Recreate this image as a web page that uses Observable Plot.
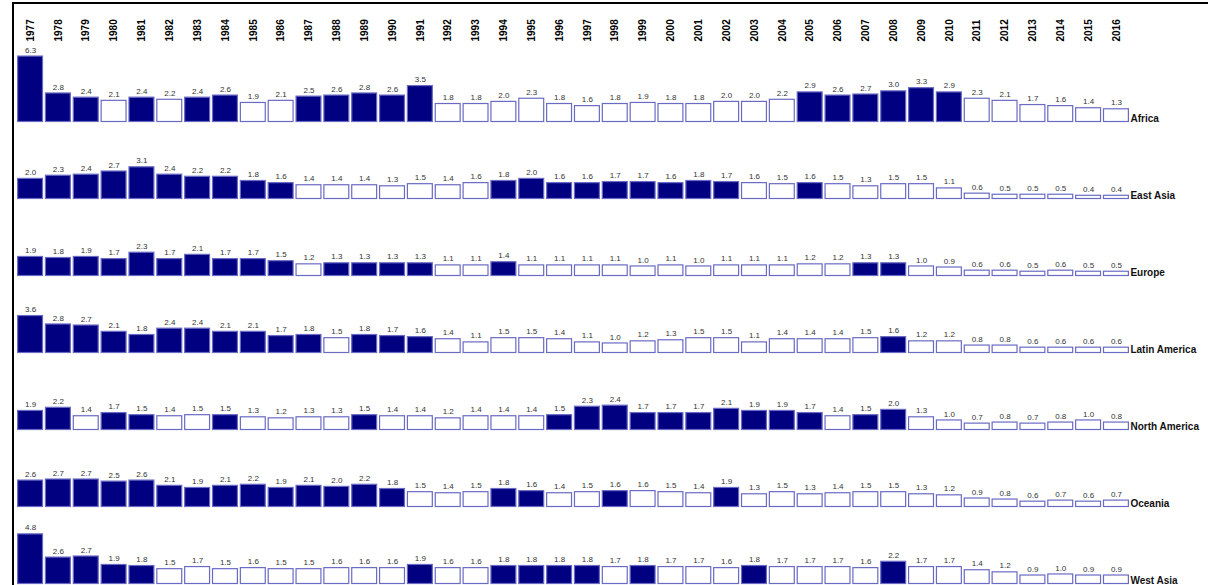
<!DOCTYPE html>
<html><head><meta charset="utf-8">
<script src="https://cdn.jsdelivr.net/npm/d3@7"></script>
<script src="https://cdn.jsdelivr.net/npm/@observablehq/plot@0.6"></script>
<style>
body{margin:0;background:#fff;font-family:"Liberation Sans",Arial,sans-serif}
#c{position:absolute;left:12px;top:2px;border-left:2px solid #000;border-top:2px solid #000}
</style></head><body><div id="c"></div>
<script>
const years = d3.range(1977, 2017).map(String);
const regions = ["Africa","East Asia","Europe","Latin America","North America","Oceania","West Asia"];

const africa = [6.3,2.8,2.4,2.1,2.4,2.2,2.4,2.6,1.9,2.1,2.5,2.6,2.8,2.6,3.5,1.8,1.8,2.0,2.3,1.8,1.6,1.8,1.9,1.8,1.8,2.0,2.0,2.2,2.9,2.6,2.7,3.0,3.3,2.9,2.3,2.1,1.7,1.6,1.4,1.3];
const eastAsia = [2.0,2.3,2.4,2.7,3.1,2.4,2.2,2.2,1.8,1.6,1.4,1.4,1.4,1.3,1.5,1.4,1.6,1.8,2.0,1.6,1.6,1.7,1.7,1.6,1.8,1.7,1.6,1.5,1.6,1.5,1.3,1.5,1.5,1.1,0.6,0.5,0.5,0.5,0.4,0.4];
const europe = [1.9,1.8,1.9,1.7,2.3,1.7,2.1,1.7,1.7,1.5,1.2,1.3,1.3,1.3,1.3,1.1,1.1,1.4,1.1,1.1,1.1,1.1,1.0,1.1,1.0,1.1,1.1,1.1,1.2,1.2,1.3,1.3,1.0,0.9,0.6,0.6,0.5,0.6,0.5,0.5];
const latinAmerica = [3.6,2.8,2.7,2.1,1.8,2.4,2.4,2.1,2.1,1.7,1.8,1.5,1.8,1.7,1.6,1.4,1.1,1.5,1.5,1.4,1.1,1.0,1.2,1.3,1.5,1.5,1.1,1.4,1.4,1.4,1.5,1.6,1.2,1.2,0.8,0.8,0.6,0.6,0.6,0.6];
const northAmerica = [1.9,2.2,1.4,1.7,1.5,1.4,1.5,1.5,1.3,1.2,1.3,1.3,1.5,1.4,1.4,1.2,1.4,1.4,1.4,1.5,2.3,2.4,1.7,1.7,1.7,2.1,1.9,1.9,1.7,1.4,1.5,2.0,1.3,1.0,0.7,0.8,0.7,0.8,1.0,0.8];
const oceania = [2.6,2.7,2.7,2.5,2.6,2.1,1.9,2.1,2.2,1.9,2.1,2.0,2.2,1.8,1.5,1.4,1.5,1.8,1.6,1.4,1.5,1.6,1.6,1.5,1.4,1.9,1.3,1.5,1.3,1.4,1.5,1.5,1.3,1.2,0.9,0.8,0.6,0.7,0.6,0.7];
const westAsia = [4.8,2.6,2.7,1.9,1.8,1.5,1.7,1.5,1.6,1.5,1.5,1.6,1.6,1.6,1.9,1.6,1.6,1.8,1.8,1.8,1.8,1.7,1.8,1.7,1.7,1.6,1.8,1.7,1.7,1.7,1.6,2.2,1.7,1.7,1.4,1.2,0.9,1.0,0.9,0.9];

// 1 = filled bar, 0 = outlined bar
const filled = [
  "1110101100111110000000000000111111000000",
  "1111111111000000011111111100100000000000",
  "1111111111011110010000000000001100000000",
  "1111111111101110000000000000000100000000",
  "1101100100001000000111111111101100000000",
  "1111111111111100011001000100000000000000",
  "1111100000000010011110100010000100000000"
];
const series = [africa, eastAsia, europe, latinAmerica, northAmerica, oceania, westAsia];

const data = regions.flatMap((r, i) => years.map((y, j) => ({
  region: r, year: y, value: series[i][j], filled: filled[i][j] === "1"
})));

const chart = Plot.plot({
  width: 1194, height: 583,
  marginTop: 39, marginBottom: 2, marginLeft: 2, marginRight: 78,
  style: {fontFamily: "Liberation Sans, Arial, sans-serif", background: "white"},
  x: {domain: years, axis: "top", label: null, tickSize: 0, tickRotate: -90, padding: 0.07, paddingOuter: 0.04, tickPadding: 4},
  y: {domain: [0, 7.3], axis: null},
  fy: {domain: regions, axis: null, padding: 0},
  marks: [
    Plot.barY(data, {fy: "region", x: "year", y: "value",
      fill: d => d.filled ? "#000080" : "white",
      stroke: "#6a6ac4", strokeWidth: 1.2, inset: 0.5}),
    Plot.text(data, {fy: "region", x: "year", y: "value", text: d => d.value.toFixed(1),
      dy: -6, fontSize: 8, fill: "#333"}),
    Plot.text(regions, {fy: d => d, x: () => "2016", y: 0, text: d => d,
      textAnchor: "start", dx: 14, dy: -4, fontSize: 10, fontWeight: "bold", fill: "#111"})
  ]
});
d3.select(chart).selectAll("g[aria-label='x-axis tick label'] text")
  .style("font-weight", "bold").style("font-size", "10px");
document.getElementById("c").append(chart);
</script></body></html>
